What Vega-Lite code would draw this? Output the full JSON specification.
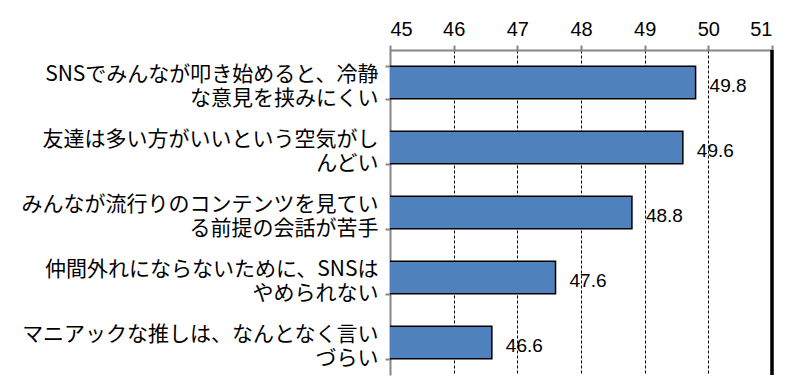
{
  "$schema": "https://vega.github.io/schema/vega-lite/v6.json",
  "autosize": "none",
  "width": 382,
  "height": 325,
  "padding": {"left": 390, "top": 50, "right": 33, "bottom": 1},
  "background": "white",
  "config": {"view": {"stroke": null}},
  "data": {
    "values": [
      {"item": "SNSでみんなが叩き始めると、冷静|な意見を挟みにくい", "value": 49.8},
      {"item": "友達は多い方がいいという空気がし|んどい", "value": 49.6},
      {"item": "みんなが流行りのコンテンツを見てい|る前提の会話が苦手", "value": 48.8},
      {"item": "仲間外れにならないために、SNSは|やめられない", "value": 47.6},
      {"item": "マニアックな推しは、なんとなく言い|づらい", "value": 46.6}
    ]
  },
  "layer": [
    {
      "mark": {"type": "bar", "fill": "#4F81BD", "stroke": "#000000", "strokeWidth": 1.5, "clip": true},
      "encoding": {
        "y": {
          "field": "item", "type": "nominal", "sort": null,
          "scale": {"paddingInner": 0.5, "paddingOuter": 0.25},
          "axis": {
            "title": null,
            "orient": "left",
            "domainColor": "#868686", "domainWidth": 2,
            "tickColor": "#868686", "tickWidth": 2, "tickSize": 5, "tickBand": "extent",
            "labelExpr": "split(datum.label, '|')",
            "labelFont": "Noto Sans CJK JP", "labelFontSize": 21, "labelColor": "#000000",
            "labelLineHeight": 24, "labelPadding": 7, "labelLimit": 400,
            "labelBaseline": "middle", "labelOffset": -8
          }
        },
        "x": {
          "field": "value", "type": "quantitative",
          "scale": {"domain": [45, 51], "nice": false, "zero": false},
          "axis": {
            "title": null,
            "orient": "top",
            "values": [45, 46, 47, 48, 49, 50, 51],
            "format": "d",
            "domainColor": "#868686", "domainWidth": 2,
            "tickColor": "#868686", "tickWidth": 2, "tickSize": 5,
            "labelFont": "Liberation Sans", "labelFontSize": 20, "labelColor": "#000000",
            "labelPadding": 6,
            "grid": true, "gridColor": "#000000", "gridWidth": 1, "gridDash": [3, 2]
          }
        }
      }
    },
    {
      "mark": {"type": "rule", "color": "#000000", "strokeWidth": 2.5},
      "encoding": {"x": {"datum": 51}}
    },
    {
      "mark": {"type": "text", "align": "left", "baseline": "middle", "dx": 14, "dy": 3,
               "font": "Liberation Sans", "fontSize": 19, "color": "#000000"},
      "encoding": {
        "y": {"field": "item", "type": "nominal", "sort": null},
        "x": {"field": "value", "type": "quantitative"},
        "text": {"field": "value", "type": "quantitative", "format": ".1f"}
      }
    }
  ]
}
